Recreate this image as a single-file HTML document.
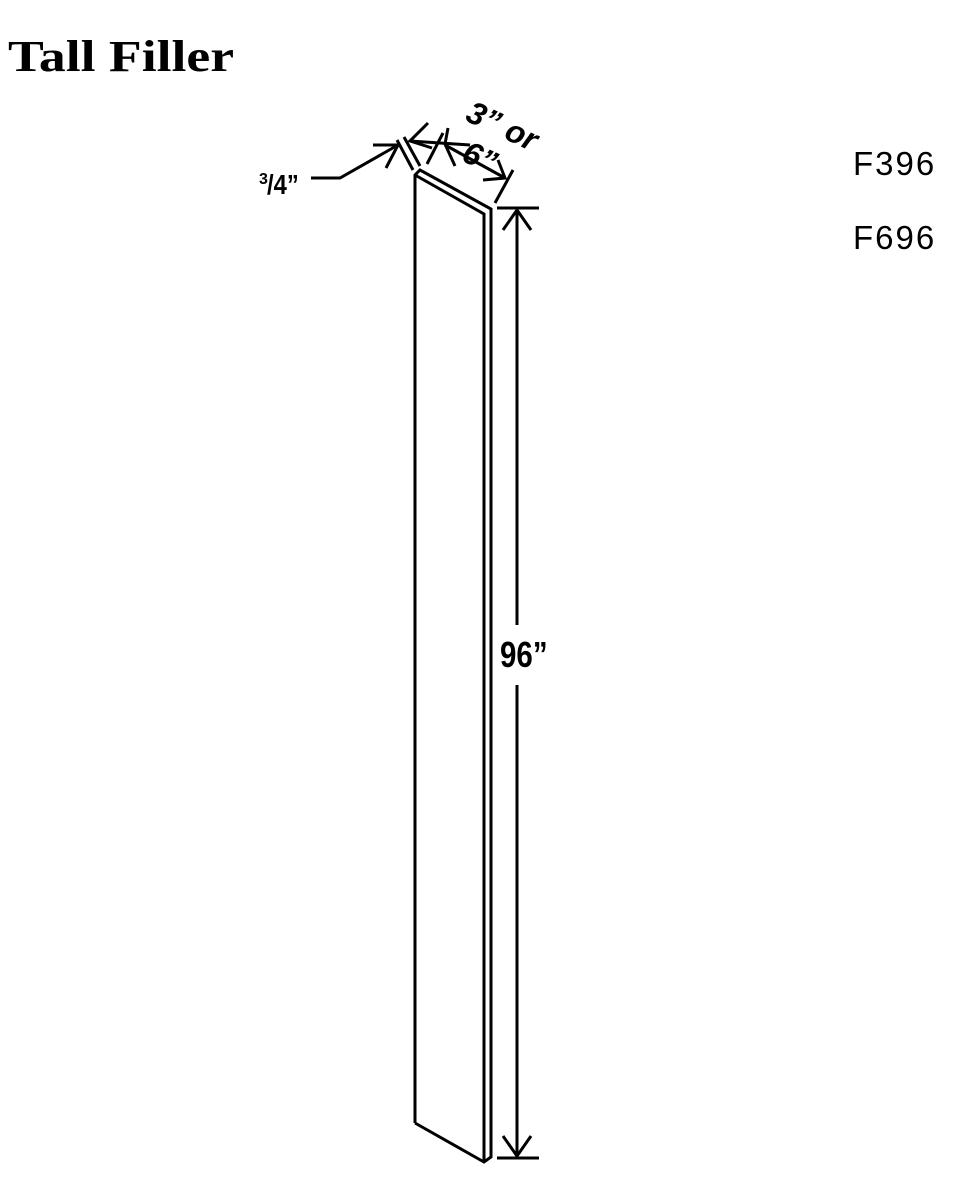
<!DOCTYPE html>
<html><head><style>
body{margin:0;width:978px;height:1184px;background:#fff;overflow:hidden}
</style></head><body>
<svg width="978" height="1184" xmlns="http://www.w3.org/2000/svg" style="position:absolute;left:0;top:0">
<text x="8" y="71" font-family="Liberation Serif, serif" font-weight="bold" font-size="44" transform="scale(1.22,1)" transform-origin="8 71">Tall Filler</text>
<text x="853" y="175" font-family="Liberation Sans, sans-serif" font-size="33" letter-spacing="2">F396</text>
<text x="853" y="249" font-family="Liberation Sans, sans-serif" font-size="33" letter-spacing="2">F696</text>
<g fill="none" stroke="#000" stroke-width="3" stroke-linejoin="miter">
<polyline points="415,1123 415,175 420,170 491,209 491,1157 484,1162 415,1123"/>
<polyline points="415,175 484,214 484,1162"/>
<line x1="497" y1="208" x2="539" y2="208"/>
<line x1="497" y1="1158" x2="539" y2="1158"/>
<line x1="517" y1="210" x2="517" y2="625"/>
<line x1="517" y1="685" x2="517" y2="1156"/>
<polyline points="503,230 517,210 531,230"/>
<polyline points="503,1136 517,1156 531,1136"/>
<line x1="397" y1="140" x2="413" y2="170"/>
<line x1="404" y1="137" x2="420" y2="166"/>
<line x1="443" y1="133" x2="427" y2="164"/>
<line x1="513" y1="170" x2="495" y2="203"/>
<line x1="410" y1="141" x2="470" y2="145"/>
<polyline points="428,123 410,141 432,148"/>
<polyline points="448,128 445,144 455,166"/>
<line x1="445" y1="145" x2="505" y2="178"/>
<polyline points="483,180 505,178 498,160"/>
<polyline points="311,178 340,178 398,145"/>
<polyline points="373,145 398,145 386,168"/>
</g>
<text x="500" y="667" font-family="Liberation Sans, sans-serif" font-weight="bold" font-size="36" transform="scale(0.82,1)" transform-origin="500 667">96”</text>
<text x="259" y="184" font-family="Liberation Sans, sans-serif" font-weight="bold" font-size="16">3</text>
<text x="267" y="194" font-family="Liberation Sans, sans-serif" font-weight="bold" font-size="28" transform="scale(0.85,1)" transform-origin="267 194">/4”</text>
<g font-family="Liberation Sans, sans-serif" font-weight="bold" font-style="italic" font-size="32">
<text x="464" y="120" transform="rotate(25 464 120)">3” or</text>
<text x="460" y="160" transform="rotate(25 460 160)">6”</text>
</g>
</svg>
</body></html>
